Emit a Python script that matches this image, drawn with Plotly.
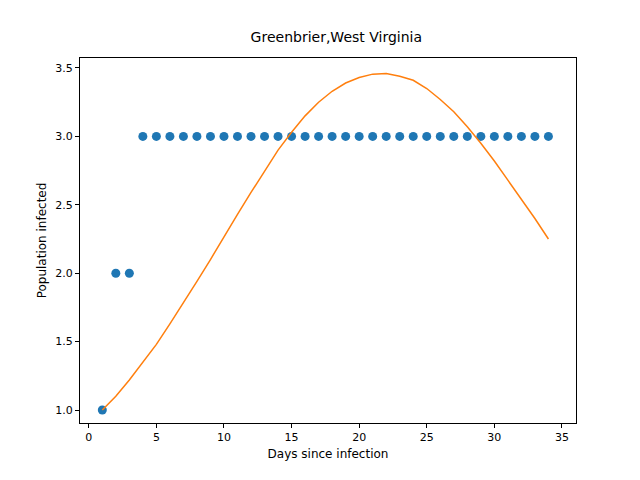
import plotly.graph_objects as go

days = list(range(1, 35))
infected = [1, 2, 2] + [3] * 31
fitted = [1.0, 1.1, 1.22, 1.35, 1.48, 1.63, 1.78, 1.94, 2.1, 2.27, 2.43, 2.59,
          2.75, 2.9, 3.03, 3.15, 3.25, 3.33, 3.39, 3.43, 3.455, 3.46, 3.44, 3.41,
          3.35, 3.27, 3.18, 3.07, 2.95, 2.82, 2.68, 2.54, 2.40, 2.25]

fig = go.Figure()
fig.add_trace(go.Scatter(x=days, y=infected, mode="markers",
                         marker=dict(color="#1f77b4", size=9)))
fig.add_trace(go.Scatter(x=days, y=fitted, mode="lines",
                         line=dict(color="#ff7f0e", width=1.5)))

axis = dict(showgrid=False, zeroline=False, showline=True, linecolor="black",
            mirror=True, ticks="outside", ticklen=4, tickcolor="black",
            automargin=False, tickfont=dict(size=11, color="black"))
fig.update_layout(
    width=640, height=480, showlegend=False,
    plot_bgcolor="white", paper_bgcolor="white",
    font=dict(family="DejaVu Sans", color="black"),
    margin=dict(l=72, r=72, t=50, b=65),
    title=dict(text="Greenbrier,West Virginia", x=0.513, y=0.93,
               xanchor="center", yanchor="bottom", font=dict(size=14)),
    xaxis=dict(axis, range=[-0.65, 36.04], tickvals=[0, 5, 10, 15, 20, 25, 30, 35],
               title=dict(text="Days since infection", font=dict(size=12), standoff=6)),
    yaxis=dict(axis, range=[0.905, 3.573], tickvals=[1, 1.5, 2, 2.5, 3, 3.5],
               tickformat=".1f",
               title=dict(text="Population infected", font=dict(size=12), standoff=6)),
)
fig.write_html("out.html")
